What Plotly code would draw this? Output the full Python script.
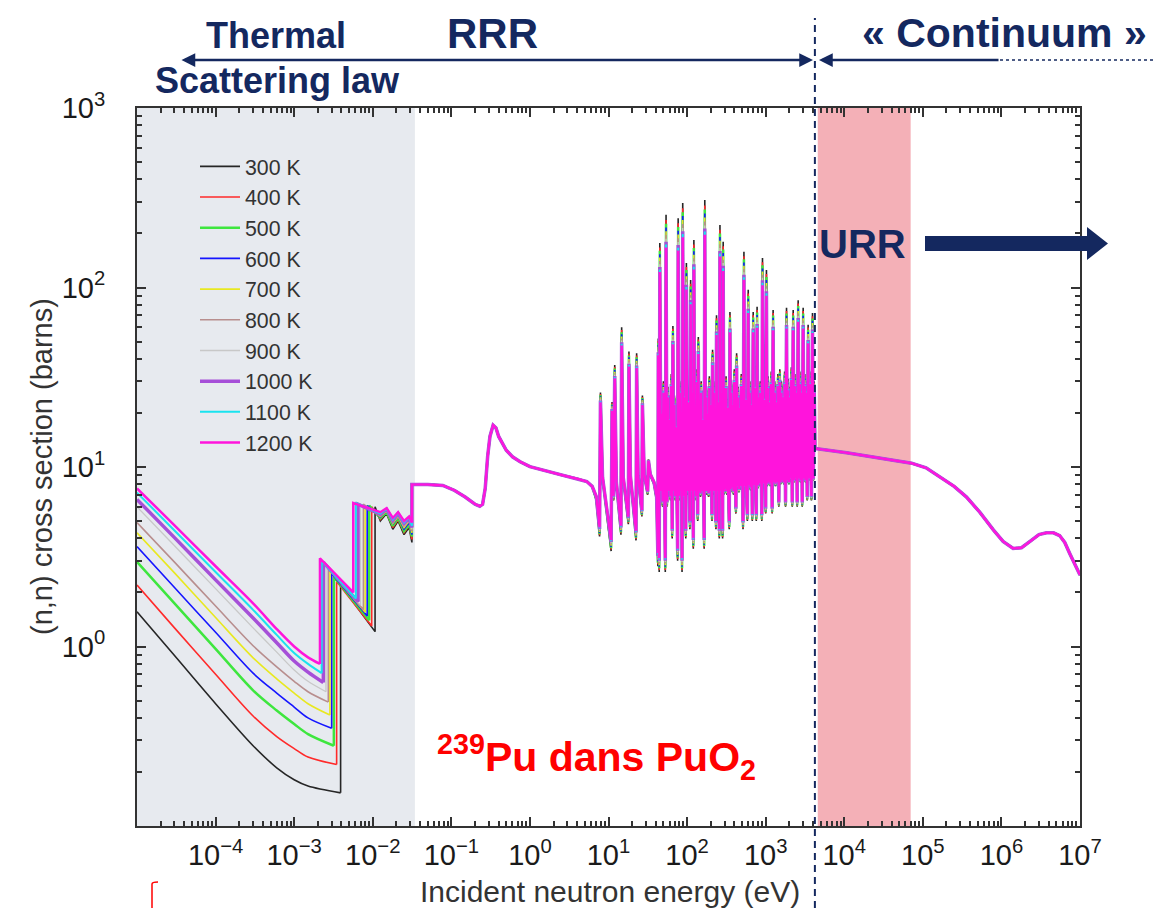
import plotly.graph_objects as go

# ---------------- data ----------------
temps = [300, 400, 500, 600, 700, 800, 900, 1000, 1100, 1200]
labels = [f"{t} K" for t in temps]
colors = ["#262626", "#ff2a2a", "#3ee63e", "#1515ff", "#e8e820",
          "#b88e8e", "#c8c8c8", "#a64fd8", "#19e3ef", "#ff14dc"]
widths = [1.6, 1.6, 2.5, 1.6, 1.6, 1.6, 1.3, 3.5, 2.0, 2.5]

# thermal region, segment 1 (values at shared energies), one row per temperature
seg1_E = [1e-5, 3e-5, 1e-4, 3e-4, 6e-4, 1e-3, 1.5e-3]
seg1_v = [
    [1.56, 0.89, 0.48, 0.28, 0.211, 0.181, 0.167],
    [2.2, 1.27, 0.70, 0.41, 0.315, 0.27, 0.242],
    [2.96, 1.74, 0.97, 0.57, 0.44, 0.37, 0.325],
    [3.6, 2.13, 1.2, 0.71, 0.55, 0.46, 0.40],
    [4.3, 2.57, 1.45, 0.865, 0.66, 0.55, 0.48],
    [4.9, 2.95, 1.68, 1.01, 0.77, 0.64, 0.56],
    [6.0, 3.64, 2.1, 1.27, 0.93, 0.74, 0.64],
    [6.6, 4.04, 2.35, 1.44, 1.05, 0.83, 0.72],
    [7.2, 4.43, 2.6, 1.6, 1.16, 0.92, 0.80],
    [7.6, 4.73, 2.8, 1.74, 1.25, 1.0, 0.87],
]
jump1_E = [3.9e-3, 3.47e-3, 3.2e-3, 3.0e-3, 2.85e-3, 2.72e-3, 2.54e-3, 2.35e-3, 2.24e-3, 2.13e-3]
jump1_low = [0.153, 0.22, 0.28, 0.35, 0.415, 0.49, 0.56, 0.63, 0.71, 0.80]
seg2_high = [2.2, 2.3, 2.45, 2.55, 2.65, 2.75, 2.85, 2.95, 3.0, 3.1]
jump2_E = [1.07e-2, 9.7e-3, 9.0e-3, 8.5e-3, 8.0e-3, 7.6e-3, 7.0e-3, 6.5e-3, 6.1e-3, 5.65e-3]
seg2_low = [1.21, 1.3, 1.4, 1.48, 1.55, 1.6, 1.7, 1.78, 1.85, 2.0]
seg3_high = [6.0, 6.0, 6.1, 6.1, 6.1, 6.2, 6.2, 6.2, 6.3, 6.3]
wig_E = [0.0125, 0.015, 0.018, 0.021, 0.025, 0.029, 0.0315]
wig_v = [
    [5.0, 5.5, 4.5, 5.0, 4.2, 4.6, 3.8],
    [5.1, 5.6, 4.6, 5.1, 4.3, 4.7, 3.95],
    [5.2, 5.6, 4.7, 5.2, 4.4, 4.8, 4.1],
    [5.25, 5.7, 4.8, 5.3, 4.5, 4.9, 4.2],
    [5.3, 5.7, 4.85, 5.3, 4.6, 5.0, 4.3],
    [5.35, 5.75, 4.9, 5.4, 4.7, 5.05, 4.4],
    [5.4, 5.8, 5.0, 5.45, 4.75, 5.1, 4.5],
    [5.45, 5.8, 5.05, 5.5, 4.85, 5.2, 4.6],
    [5.5, 5.85, 5.1, 5.55, 4.9, 5.25, 4.7],
    [5.6, 5.9, 5.2, 5.6, 5.0, 5.3, 4.9],
]

# epithermal smooth part (common to all temperatures)
epi_E = [0.0315, 0.05, 0.078, 0.11, 0.15, 0.2, 0.23, 0.25, 0.27, 0.29, 0.31, 0.34, 0.37,
         0.40, 0.45, 0.5, 0.6, 0.75, 1.0, 1.6, 2.6, 4.0, 5.3, 6.2, 6.6]
epi_v = [8.0, 8.0, 7.9, 7.4, 6.8, 6.2, 6.05, 6.2, 7.6, 11.5, 14.8, 17.1, 16.5,
         14.8, 13.4, 12.4, 11.4, 10.7, 10.05, 9.5, 9.0, 8.6, 8.3, 7.8, 7.2]

# resolved resonances, 300 K values (energy, cross section)
res_points = [
    (7.0, 6.5), (7.7, 4.1), (7.9, 26), (8.4, 8.6), (10.8, 3.4), (11.1, 23), (11.6, 6.5),
    (12.0, 37), (12.6, 8.0), (14.4, 4.2), (14.7, 60), (15.4, 8.6), (17.9, 4.8), (18.2, 44),
    (19.0, 8.8), (22.4, 3.9), (22.8, 43), (23.8, 8.8), (26.6, 5.3), (27.0, 25), (28.5, 9.0),
    (31.5, 7.0), (32.2, 11), (34, 9.0), (38, 8.0),
    (41.0, 6.5), (42.5, 2.8), (43.0, 52), (44.2, 2.6), (45.0, 177), (46.5, 7), (47.5, 22),
    (48.8, 6), (50.0, 30), (51.5, 7), (52.8, 2.6), (54.0, 254), (55.5, 6), (57, 28), (58.5, 7),
    (60, 20), (61.5, 6.5), (63, 33), (64.7, 4), (66, 61), (67.5, 7), (69, 25), (70.8, 6.5),
    (72.5, 18), (74, 7), (75.8, 3), (77, 243), (78.8, 6.5), (80.5, 30), (82.3, 7), (84, 22),
    (86.3, 2.6), (88, 296), (90, 6.5), (92, 28), (94, 7), (96.2, 4), (98, 137), (100.5, 7),
    (103, 26), (105.5, 6.5), (108.5, 4.5), (111, 110), (113.5, 7), (116, 30), (118.5, 6.8),
    (120, 3.5), (122, 184), (125, 7), (128, 22), (131, 6.5), (134, 35), (136.5, 5), (139, 53),
    (142, 7), (145, 25), (148, 6.8), (151, 30), (154.5, 7), (158, 20), (161.5, 6.5),
    (165, 3.5), (168, 307), (172, 7), (176, 28), (180, 7), (184, 22), (188, 6.8), (192, 32),
    (196, 7), (200, 25), (204, 7.2), (207.5, 5), (211, 45), (214, 7), (218, 30), (222, 7),
    (226, 22), (229.5, 7), (233, 4.5), (237, 70), (241, 7), (246, 26), (251, 7), (257, 4),
    (262, 223), (267, 7), (272, 30), (277, 7), (283, 4), (288, 180), (294, 7), (300, 27),
    (306, 7.2), (313, 32), (320, 7), (327, 24), (334, 7), (344, 4.5), (351, 73), (358, 7.2),
    (366, 30), (374, 7.4), (382, 25), (390, 7), (399, 35), (408, 7.5), (418, 5.5), (427, 43),
    (437, 7.5), (447, 28), (457, 7.2), (468, 24), (479, 7.5), (490, 33), (502, 7.4),
    (515, 4.5), (529, 158), (541, 7.5), (553, 27), (566, 7.4), (585, 5), (600, 97),
    (614, 7.6), (628, 30), (643, 7.4), (658, 25), (676, 5), (694, 73), (711, 7.6), (728, 32),
    (745, 7.8), (760, 5), (778, 78), (796, 7.6), (815, 28), (834, 7.8), (854, 30), (874, 7.6),
    (893, 5), (911, 146), (932, 7.8), (954, 27), (976, 7.6), (1000, 5.5), (1023, 125),
    (1047, 7.8), (1072, 32), (1097, 8), (1123, 26), (1150, 7.8), (1178, 34), (1210, 5.5),
    (1244, 75), (1273, 8), (1303, 30), (1334, 7.8), (1366, 26), (1398, 8), (1431, 33),
    (1470, 6), (1513, 35), (1549, 8), (1586, 30), (1624, 8.2), (1663, 28), (1702, 8),
    (1743, 34), (1790, 6), (1843, 77), (1887, 8.2), (1932, 31), (1978, 8), (2025, 28),
    (2073, 8.4), (2122, 36), (2180, 6), (2240, 75), (2293, 8.2), (2348, 33), (2404, 8.4),
    (2461, 30), (2520, 6), (2592, 85), (2654, 8.4), (2717, 34), (2782, 8.2), (2848, 30),
    (2920, 6), (3000, 77), (3072, 8.4), (3145, 33), (3220, 8.2), (3297, 30), (3380, 6.5),
    (3470, 62), (3553, 8.4), (3638, 34), (3725, 8.2), (3820, 6.5), (3944, 72), (4040, 8.4),
    (4150, 30),
]
# Doppler damping exponent of resonance amplitude, per temperature
res_damp = [1.0, 0.98, 0.965, 0.95, 0.935, 0.92, 0.905, 0.893, 0.882, 0.87]
res_base = 10.0

# fast / continuum region (common)
fast_E = [4250, 1.07e4, 2.86e4, 7.2e4, 1.1e5, 1.64e5, 2.5e5, 3.6e5, 5.3e5, 7.9e5,
          1.05e6, 1.41e6, 1.8e6, 2.4e6, 3.0e6, 3.75e6, 4.6e6, 5.5e6, 6.4e6, 7.4e6, 8.6e6, 1e7]
fast_v = [12.7, 12.0, 11.2, 10.5, 9.9, 8.8, 7.8, 6.8, 5.6, 4.46,
          3.85, 3.52, 3.55, 3.9, 4.2, 4.3, 4.3, 4.15, 3.8, 3.3, 2.85, 2.5]

x_ticks = [1e-4, 1e-3, 1e-2, 1e-1, 1, 10, 100, 1e3, 1e4, 1e5, 1e6, 1e7]
x_ticktext = ["10<sup>−4</sup>", "10<sup>−3</sup>", "10<sup>−2</sup>", "10<sup>−1</sup>",
              "10<sup>0</sup>", "10<sup>1</sup>", "10<sup>2</sup>", "10<sup>3</sup>",
              "10<sup>4</sup>", "10<sup>5</sup>", "10<sup>6</sup>", "10<sup>7</sup>"]
y_ticks = [1, 10, 100, 1000]
y_ticktext = ["10<sup>0</sup>", "10<sup>1</sup>", "10<sup>2</sup>", "10<sup>3</sup>"]
x_decades = list(range(-5, 7))
y_decades = list(range(-1, 3))
minor_digits = [2, 3, 4, 5, 6, 7, 8, 9]

grey_band = (1e-5, 0.0344)
pink_band = (4.6e3, 7.0e4)
rrr_limit = 4.23e3

# ---------------- layout helpers ----------------
L, T, W, H = 137, 108, 943, 718
def px(x):
    return (x - L) / W
def py(y):
    return (T + H - y) / H

NAVY = "#14285f"
FONT = "Liberation Sans, Arial, sans-serif"

fig = go.Figure()

res_E = [p[0] for p in res_points]
res_v = [p[1] for p in res_points]

for i, t in enumerate(temps):
    # smooth 1/v-like thermal branch
    fig.add_trace(go.Scatter(
        x=list(seg1_E) + [jump1_E[i]], y=list(seg1_v[i]) + [jump1_low[i]],
        mode="lines", name=labels[i], legendgroup=labels[i], showlegend=False,
        line=dict(color=colors[i], width=widths[i], shape="spline", smoothing=0.9),
        hoverinfo="skip"))
    xs = [jump1_E[i], jump1_E[i], jump2_E[i], jump2_E[i]] + list(wig_E)
    ys = [jump1_low[i], seg2_high[i], seg2_low[i], seg3_high[i]] + list(wig_v[i])
    xs += epi_E
    ys += epi_v
    xs += res_E
    ys += [res_base * (v / res_base) ** res_damp[i] for v in res_v]
    xs += fast_E
    ys += fast_v
    fig.add_trace(go.Scatter(x=xs, y=ys, mode="lines", name=labels[i],
                             legendgroup=labels[i],
                             line=dict(color=colors[i], width=widths[i])))

shapes = [
    dict(type="rect", xref="x", yref="paper", x0=grey_band[0], x1=grey_band[1], y0=0, y1=1,
         fillcolor="#e7eaef", line=dict(width=0), layer="below"),
    dict(type="rect", xref="x", yref="paper", x0=pink_band[0], x1=pink_band[1], y0=0, y1=1,
         fillcolor="#f4b0b7", line=dict(width=0), layer="below"),
    dict(type="line", xref="x", yref="paper", x0=rrr_limit, x1=rrr_limit,
         y0=py(908), y1=py(18), line=dict(color=NAVY, width=2, dash="7px,5px")),
    dict(type="line", xref="paper", yref="paper", x0=px(1000), x1=px(1154),
         y0=py(60), y1=py(60), line=dict(color=NAVY, width=1.5, dash="dot")),
    dict(type="path", xref="paper", yref="paper",
         path=(f"M {px(925)},{py(236)} L {px(1087)},{py(236)} L {px(1087)},{py(227)} "
               f"L {px(1108)},{py(243.5)} L {px(1087)},{py(260)} L {px(1087)},{py(251)} "
               f"L {px(925)},{py(251)} Z"),
         fillcolor=NAVY, line=dict(width=0)),
    dict(type="path", xref="paper", yref="paper",
         path=f"M {px(152)},{py(908)} L {px(152)},{py(884)} Q {px(152)},{py(882)} {px(158)},{py(882)}",
         line=dict(color="#ff0000", width=1.5)),
]

def label(xp, yp, text, size, color=NAVY, **kw):
    return dict(x=px(xp), y=py(yp), xref="paper", yref="paper", showarrow=False,
                xanchor="center", yanchor="middle", text=text,
                font=dict(family=FONT, size=size, color=color), **kw)

annotations = [
    dict(x=px(813), y=py(60), xref="paper", yref="paper", ax=180 - 813, ay=0,
         axref="pixel", ayref="pixel", showarrow=True, arrowside="end+start",
         arrowhead=2, arrowsize=1.1, arrowwidth=2.5, arrowcolor=NAVY, text=""),
    dict(x=px(819), y=py(60), xref="paper", yref="paper", ax=1000 - 819, ay=0,
         axref="pixel", ayref="pixel", showarrow=True, arrowhead=2, arrowsize=1.1,
         arrowwidth=2.5, arrowcolor=NAVY, text=""),
    label(276, 36, "<b>Thermal</b>", 36),
    label(277, 81, "<b>Scattering law</b>", 36),
    label(492, 33, "<b>RRR</b>", 42),
    label(1004, 33, "<b>« Continuum »</b>", 41),
    label(862, 244, "<b>URR</b>", 40),
    label(596, 757, "<b><sup>239</sup>Pu dans PuO<sub>2</sub></b>", 41, color="#ff0000"),
    label(610, 891, "Incident neutron energy (eV)", 30, color="#333333"),
    label(42, 467, "(n,n) cross section (barns)", 29, color="#333333", textangle=-90),
]

axis_common = dict(type="log", showline=True, linecolor="#333333", linewidth=2,
                   mirror="ticks", ticks="inside", ticklen=9, tickwidth=1.5,
                   tickcolor="#333333", showgrid=False, zeroline=False,
                   tickfont=dict(family=FONT, size=29, color="#1a1a1a"))

fig.update_layout(
    width=1154, height=908,
    margin=dict(l=L, r=1154 - L - W, t=T, b=908 - T - H),
    paper_bgcolor="white", plot_bgcolor="white",
    showlegend=True,
    legend=dict(x=px(195), y=py(146), xanchor="left", yanchor="top",
                bgcolor="rgba(0,0,0,0)", borderwidth=0, itemwidth=40,
                font=dict(family=FONT, size=21.3, color="#333333"),
                traceorder="normal"),
    xaxis=dict(axis_common, range=[-5, 7], tickmode="array", tickvals=x_ticks,
               ticktext=x_ticktext, ticklabelstandoff=2,
               minor=dict(tickmode="array", ticks="inside", ticklen=5, tickcolor="#333333",
                          tickvals=[m * 10.0 ** d for d in x_decades for m in minor_digits])),
    yaxis=dict(axis_common, range=[-1, 3], tickmode="array", tickvals=y_ticks,
               ticktext=y_ticktext, ticklabelstandoff=24,
               minor=dict(tickmode="array", ticks="inside", ticklen=5, tickcolor="#333333",
                          tickvals=[m * 10.0 ** d for d in y_decades for m in minor_digits])),
    shapes=shapes,
    annotations=annotations,
)

fig.write_html("out.html")
